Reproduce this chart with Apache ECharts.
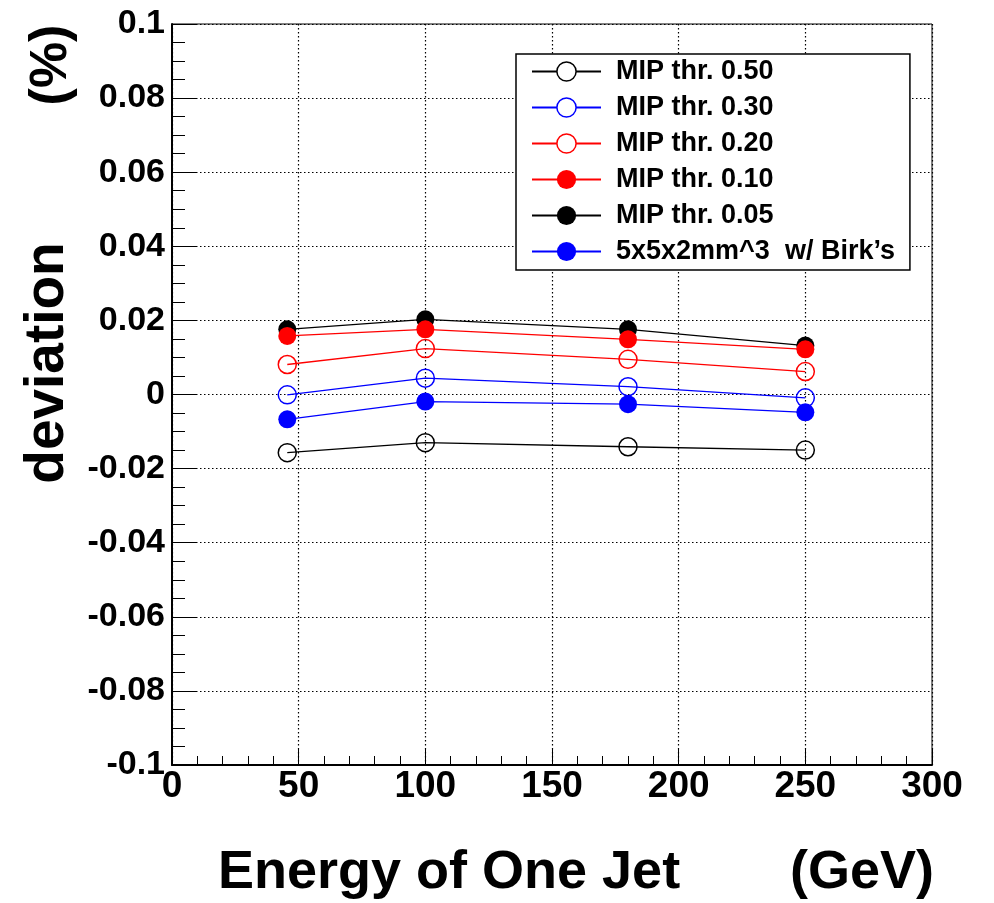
<!DOCTYPE html>
<html>
<head>
<meta charset="utf-8">
<script src="https://cdn.jsdelivr.net/npm/echarts@6/dist/echarts.min.js"></script>
<style>html,body{margin:0;padding:0;background:#fff;}#c{width:994px;height:903px;}</style>
</head>
<body>
<div id="c"></div>
<script>
// ---- data ----
var energies = [45.5, 100, 180, 250];
var seriesNames = ['MIP thr. 0.50', 'MIP thr. 0.30', 'MIP thr. 0.20', 'MIP thr. 0.10', 'MIP thr. 0.05', "5x5x2mm^3  w/ Birk\u2019s"];
var mip050 = [-0.0157, -0.0130, -0.0141, -0.0150];
var mip030 = [-0.0001, 0.0044, 0.0021, -0.0009];
var mip020 = [0.0081, 0.0124, 0.0095, 0.0062];
var mip010 = [0.0158, 0.0176, 0.0149, 0.0122];
var mip005 = [0.0176, 0.0203, 0.0176, 0.0132];
var birks  = [-0.0067, -0.0019, -0.0026, -0.0048];
var xTickLabels = ['0', '50', '100', '150', '200', '250', '300'];
var yTickLabels = ['-0.1', '-0.08', '-0.06', '-0.04', '-0.02', '0', '0.02', '0.04', '0.06', '0.08', '0.1'];
var xTitle = 'Energy of One Jet';
var xUnit = '(GeV)';
var yTitle = 'deviation';
var yUnit = '(%)';

// ---- styles ----
var FONT = '"Liberation Sans", Arial, Helvetica, sans-serif';
var styles = [
  {color: '#000000', open: true,  z: 2},
  {color: '#0000ff', open: true,  z: 2},
  {color: '#ff0000', open: true,  z: 2},
  {color: '#ff0000', open: false, z: 4},
  {color: '#000000', open: false, z: 3},
  {color: '#0000ff', open: false, z: 3}
];
var values = [mip050, mip030, mip020, mip010, mip005, birks];

function pairs(arr) { return arr.map(function (v, i) { return [energies[i], v]; }); }

var series = values.map(function (vals, i) {
  var s = styles[i];
  return {
    name: seriesNames[i],
    type: 'line',
    data: pairs(vals),
    z: s.z,
    color: s.color,
    symbol: 'circle',
    symbolSize: 18,
    showSymbol: true,
    lineStyle: {color: s.color, width: 1.3},
    itemStyle: s.open
      ? {color: 'rgba(255,255,255,0)', borderColor: s.color, borderWidth: 1.5}
      : {color: s.color, borderColor: s.color, borderWidth: 0},
    emphasis: {disabled: true},
    animation: false
  };
});

var legendData = seriesNames.map(function (n, i) {
  var s = styles[i];
  return {
    name: n,
    itemStyle: s.open ? {color: '#ffffff', borderColor: s.color, borderWidth: 1.5} : {color: s.color}
  };
});

var chart = echarts.init(document.getElementById('c'), null, {renderer: 'canvas'});
chart.setOption({
  backgroundColor: '#ffffff',
  animation: false,
  grid: {left: 172, right: 62, top: 24, bottom: 138, show: true, borderColor: '#000', borderWidth: 1, backgroundColor: 'rgba(0,0,0,0)'},
  xAxis: {
    type: 'value', min: 0, max: 300, interval: 50,
    axisLine: {show: true, onZero: false, lineStyle: {color: '#000', width: 2}},
    axisTick: {show: true, inside: true, length: 16, lineStyle: {color: '#000', width: 1}},
    minorTick: {show: true, splitNumber: 5, length: 9, lineStyle: {color: '#000', width: 1}},
    splitLine: {show: true, lineStyle: {color: '#000', width: 1.2, type: [1.5, 2.5]}},
    axisLabel: {
      color: '#000', fontFamily: FONT, fontWeight: 'bold', fontSize: 37, margin: 3,
      formatter: function (v) { return xTickLabels[Math.round(v / 50)]; }
    }
  },
  yAxis: {
    type: 'value', min: -0.1, max: 0.1, interval: 0.02,
    axisLine: {show: true, onZero: false, lineStyle: {color: '#000', width: 2}},
    axisTick: {show: true, inside: true, length: 25, lineStyle: {color: '#000', width: 1}},
    minorTick: {show: true, splitNumber: 4, length: 13, lineStyle: {color: '#000', width: 1}},
    splitLine: {show: true, lineStyle: {color: '#000', width: 1.2, type: [1.5, 2.5]}},
    axisLabel: {
      color: '#000', fontFamily: FONT, fontWeight: 'bold', fontSize: 34, margin: 7,
      formatter: function (v) { return yTickLabels[Math.round((v + 0.1) / 0.02)]; }
    }
  },
  legend: {
    orient: 'vertical',
    left: 516, top: 54,
    padding: [4, 15, 5, 15],
    itemWidth: 69, itemHeight: 24, itemGap: 9,
    backgroundColor: '#fff',
    borderColor: '#000', borderWidth: 1.5, borderRadius: 0,
    data: legendData,
    selectedMode: false,
    textStyle: {color: '#000', fontFamily: FONT, fontWeight: 'bold', fontSize: 27, padding: [0, 0, 0, 10]}
  },
  graphic: [
    {type: 'text', left: 218, top: 846, style: {text: xTitle, fill: '#000', font: 'bold 54px ' + FONT}},
    {type: 'text', left: 790, top: 846, style: {text: xUnit, fill: '#000', font: 'bold 54px ' + FONT}},
    {type: 'text', x: 48, y: 363, rotation: Math.PI / 2, style: {text: yTitle, fill: '#000', font: 'bold 55px ' + FONT, align: 'center', verticalAlign: 'middle'}},
    {type: 'text', x: 52, y: 65, rotation: Math.PI / 2, style: {text: yUnit, fill: '#000', font: 'bold 52px ' + FONT, align: 'center', verticalAlign: 'middle'}}
  ],
  series: series
});
</script>
</body>
</html>
